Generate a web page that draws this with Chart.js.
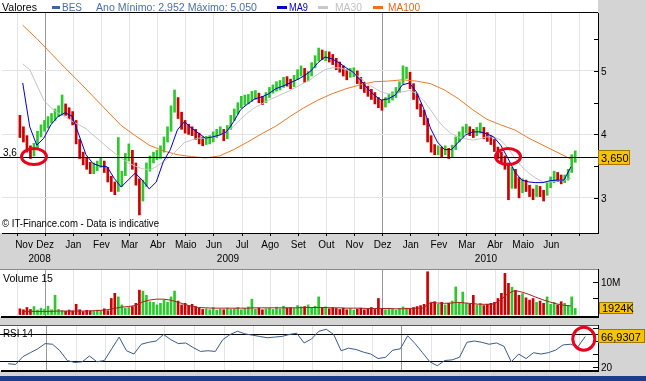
<!DOCTYPE html>
<html><head><meta charset="utf-8">
<script src="https://cdn.jsdelivr.net/npm/chart.js@4/dist/chart.umd.min.js"></script>
<style>
html,body{margin:0;padding:0;background:#d4d4d4;width:646px;height:381px;overflow:hidden;position:relative}
canvas{position:absolute;left:0}
#bar{position:absolute;left:0;top:376px;width:646px;height:5px;background:#1c3c8c}
</style></head><body>
<canvas id="c1" width="646" height="268" style="top:0"></canvas>
<canvas id="c2" width="646" height="49" style="top:269px"></canvas>
<canvas id="c3" width="646" height="48" style="top:325px"></canvas>
<div id="bar"></div>
<script>
// ---------- DATA ----------
// time axis: months since 1 Nov 2008 (Dec 2008 = 1, Jan 2009 = 2 ... Jul 2010 = 20)
const months = ['Nov','Dez','Jan','Fev','Mar','Abr','Maio','Jun','Jul','Ago','Set','Out','Nov','Dez','Jan','Fev','Mar','Abr','Maio','Jun'];
const years = [{label:'2008', start:0, end:2},{label:'2009', start:2, end:14},{label:'2010', start:14, end:26}];
const priceT0 = 0.6, priceDT = 0.125;
const closes = [4.07,3.95,3.79,3.72,3.75,4.00,4.10,4.15,4.23,4.28,4.34,4.35,4.42,4.39,4.35,4.23,3.91,3.68,3.60,3.52,
3.44,3.47,3.52,3.57,3.47,3.31,3.17,3.13,3.20,3.36,3.63,3.72,3.52,3.28,2.97,3.20,3.47,3.60,3.65,3.68,
3.76,3.91,4.07,4.39,4.54,4.31,4.15,4.10,4.07,4.04,3.99,3.91,3.88,3.91,3.91,3.99,4.04,4.07,3.95,4.10,
4.26,4.35,4.46,4.54,4.54,4.57,4.62,4.62,4.57,4.54,4.62,4.70,4.73,4.78,4.78,4.86,4.83,4.78,4.89,4.98,
5.02,4.89,4.94,5.09,5.20,5.28,5.25,5.25,5.22,5.17,5.09,5.05,4.98,4.94,4.98,4.98,4.86,4.78,4.73,4.67,
4.62,4.54,4.50,4.46,4.54,4.59,4.62,4.70,4.78,4.98,4.98,4.78,4.62,4.46,4.35,4.23,3.95,3.79,3.76,3.76,
3.72,3.76,3.68,3.79,3.91,3.99,4.07,4.10,4.04,4.02,4.07,4.10,3.99,3.95,3.91,3.79,3.68,3.63,3.52,3.20,
3.41,3.28,3.13,3.24,3.16,3.09,3.05,3.16,3.09,3.05,3.20,3.28,3.36,3.31,3.28,3.31,3.41,3.63,3.65];
const highs = [4.30,4.12,3.98,3.82,3.86,4.05,4.15,4.22,4.28,4.33,4.40,4.45,4.62,4.48,4.42,4.36,4.22,3.92,3.72,3.63,
3.56,3.55,3.58,3.64,3.58,3.48,3.34,3.25,3.95,3.42,3.70,3.85,3.75,3.55,3.30,3.28,3.55,3.66,3.72,3.75,
3.82,3.96,4.12,4.45,4.70,4.58,4.35,4.22,4.16,4.12,4.08,4.02,3.96,3.97,3.98,4.04,4.08,4.12,4.08,4.14,
4.30,4.40,4.50,4.60,4.62,4.63,4.68,4.69,4.65,4.60,4.66,4.74,4.78,4.83,4.85,4.90,4.91,4.87,4.93,5.02,
5.08,5.04,4.99,5.13,5.24,5.36,5.33,5.31,5.30,5.26,5.20,5.14,5.08,5.02,5.04,5.05,5.00,4.90,4.82,4.76,
4.71,4.66,4.58,4.54,4.58,4.63,4.67,4.74,4.83,5.08,5.06,4.98,4.80,4.64,4.48,4.38,4.25,3.98,3.84,3.82,
3.80,3.82,3.78,3.83,3.96,4.04,4.12,4.16,4.12,4.08,4.11,4.18,4.11,4.03,3.98,3.92,3.80,3.72,3.66,3.55,
3.48,3.45,3.32,3.30,3.28,3.20,3.14,3.20,3.18,3.12,3.24,3.33,3.42,3.40,3.36,3.36,3.45,3.68,3.74];
const lows = [3.95,3.88,3.72,3.62,3.66,3.78,3.96,4.05,4.10,4.18,4.22,4.28,4.30,4.30,4.25,4.15,3.85,3.62,3.52,3.45,
3.38,3.38,3.43,3.48,3.40,3.25,3.10,3.05,3.10,3.18,3.35,3.58,3.45,3.20,2.73,2.95,3.18,3.42,3.55,3.60,
3.62,3.72,3.88,4.05,4.35,4.25,4.08,4.02,4.00,3.98,3.92,3.85,3.82,3.84,3.85,3.88,3.95,3.99,3.90,3.93,
4.08,4.22,4.32,4.42,4.46,4.48,4.52,4.55,4.50,4.47,4.50,4.58,4.65,4.68,4.70,4.74,4.76,4.72,4.75,4.86,
4.92,4.82,4.84,4.92,5.05,5.16,5.18,5.16,5.14,5.10,5.02,4.98,4.92,4.86,4.90,4.91,4.80,4.72,4.66,4.60,
4.55,4.48,4.42,4.38,4.43,4.50,4.54,4.58,4.66,4.80,4.88,4.72,4.55,4.40,4.28,4.15,3.88,3.72,3.68,3.68,
3.65,3.68,3.62,3.65,3.76,3.88,3.96,4.02,3.98,3.95,3.98,4.02,3.93,3.89,3.84,3.73,3.62,3.56,3.45,2.97,
3.15,3.15,3.00,3.08,3.10,3.02,2.97,3.02,3.02,2.95,3.04,3.16,3.24,3.26,3.22,3.24,3.28,3.40,3.56];
const volumes = [1.8,1.5,2.2,1.6,2.5,1.4,2.0,1.7,2.6,1.5,6.0,
1.6,1.2,1.0,1.4,1.1,3.2,1.5,0.9,1.3,1.1,
1.0,1.4,1.2,1.8,1.2,5.0,6.6,5.5,3.0,2.0,
2.2,2.5,3.5,7.6,7.3,6.0,4.0,3.8,3.0,3.5,
4.5,3.8,5.5,7.3,4.2,3.0,3.5,2.8,3.2,2.5,
2.0,1.6,1.8,1.5,2.2,1.4,1.7,1.5,2.0,1.6,
1.8,2.2,1.5,1.9,2.4,4.8,1.7,2.0,1.5,1.8,
2.0,1.6,2.3,1.8,2.6,2.0,2.2,1.9,2.8,2.4,
2.5,3.0,2.2,2.6,5.5,2.0,2.4,1.8,2.2,1.9,
1.6,2.0,1.5,1.8,1.4,1.7,2.0,1.5,1.8,2.2,
1.6,5.0,1.8,1.5,2.0,1.7,1.4,1.9,2.4,2.0,
1.8,2.2,2.5,2.8,3.2,13.3,3.5,4.0,3.2,3.8,
3.0,3.5,4.2,8.6,3.8,7.0,3.5,3.2,6.0,3.0,
3.5,2.8,3.2,3.5,3.8,5.0,6.6,12.8,9.7,8.5,
7.5,6.0,6.5,5.2,4.5,5.0,3.8,4.2,3.5,5.5,
3.2,3.8,3.0,4.0,3.5,2.8,5.5,1.924];
const maT0 = 0.7, maDT = 0.25, ma100DT = 0.5;
const ma9 = [4.81,4.12,3.83,3.94,4.15,4.28,4.34,4.29,3.99,3.68,3.54,3.50,3.49,3.31,3.17,3.28,3.39,3.28,3.14,3.25,
3.57,3.76,4.07,4.20,4.10,4.02,3.94,3.96,3.99,4.04,4.20,4.39,4.48,4.56,4.59,4.64,4.72,4.76,4.81,4.86,
4.92,5.00,5.13,5.22,5.19,5.13,5.05,4.98,4.86,4.73,4.62,4.54,4.56,4.62,4.78,4.81,4.67,4.42,4.10,3.88,
3.76,3.76,3.88,3.99,4.04,4.04,4.01,3.96,3.83,3.63,3.41,3.28,3.25,3.24,3.24,3.27,3.28,3.28,3.49];
const ma30 = [5.11,5.02,4.78,4.54,4.42,4.34,4.28,4.21,4.15,4.09,3.99,3.90,3.80,3.71,3.63,3.55,3.50,3.46,3.44,3.49,
3.57,3.65,3.76,3.87,3.91,3.94,3.94,3.96,3.99,4.04,4.13,4.24,4.34,4.42,4.48,4.54,4.59,4.64,4.69,4.75,
4.81,4.87,4.95,5.02,5.05,5.05,5.02,4.97,4.89,4.80,4.73,4.67,4.64,4.64,4.67,4.69,4.65,4.54,4.39,4.23,
4.10,4.01,3.96,3.93,3.91,3.93,3.96,3.96,3.91,3.79,3.63,3.49,3.39,3.31,3.25,3.25,3.27,3.28,3.31];
const ma100 = [5.72,5.51,5.28,5.05,4.83,4.60,4.37,4.14,3.98,3.83,3.74,3.68,3.65,3.63,3.66,3.76,3.88,4.01,4.13,4.28,
4.42,4.54,4.64,4.72,4.78,4.83,4.84,4.86,4.84,4.80,4.70,4.56,4.39,4.24,4.15,4.07,3.94,3.83,3.72,3.61];
const volMA15 = [1.0,1.0,1.0,1.0,1.0,1.1,1.1,1.1,1.1,1.1,1.2,1.3,1.5,1.9,2.3,2.5,2.8,3.9,4.5,4.8,
4.8,4.5,3.9,3.2,2.6,2.2,2.1,2.0,2.0,2.0,2.0,2.0,2.0,2.1,2.1,2.1,2.1,2.1,2.1,2.1,
2.2,2.2,2.2,2.2,2.1,2.1,2.0,2.0,2.0,1.9,1.9,1.9,1.9,1.8,1.8,1.9,2.0,2.0,3.8,3.6,
3.5,3.6,3.8,3.6,3.4,3.2,3.2,3.3,4.5,6.5,7.5,7.0,6.3,5.4,4.6,3.9,3.3,2.9,2.7];
const rsi14 = [25,24,36,42,48,56,55,45,30,27,28,37,28,30,48,66,45,40,55,58,
60,70,62,56,57,50,44,45,44,62,70,75,71,69,67,65,66,67,70,72,
57,63,75,78,70,45,49,47,43,40,33,35,46,48,68,56,42,28,22,30,
31,35,58,60,58,55,57,52,28,40,33,42,40,42,46,54,55,51,66.93];
const priceTicks = [3,3.5,4,4.5,5,5.5];
const volTicks = [5,10];
const rsiTicks = [20,40,60,80];
const rsiLevels = [30,70];
const lastPrice = 3.65, lastVolumeLabel = '1924K', lastRsiLabel = '66,9307';
const circleMarks = [{t:1.1, v:3.65},{t:17.96, v:3.65}];
const rsiMark = {t:20.15, v:63.5};

// ---------- HELPERS ----------
const FONT = '"Liberation Sans", Arial, sans-serif';
const X_MIN = 0.493, X_MAX = 20.63;
const monthStarts = months.map((m,i)=>i+1);
const yearStarts = [2,14];
const UP = '#2ec82e', DOWN = '#c80000';
const barColors = closes.map((c,i)=> (i===0 ? c >= (highs[0]+lows[0])/2 : c >= closes[i-1]) ? UP : DOWN);
const tP = i => priceT0 + i*priceDT;
const dataStart = tP(0), dataEnd = tP(closes.length-1);

function fitText(ctx, text, x, y, w, font, color){
  ctx.save(); ctx.font = font; ctx.fillStyle = color; ctx.textAlign='left'; ctx.textBaseline='alphabetic';
  const m = ctx.measureText(text).width;
  ctx.translate(x, y); ctx.scale(w/m, 1); ctx.fillText(text, 0, 0); ctx.restore();
}
function xAxis(h, tickLen){
  return {
    type:'linear', min:X_MIN, max:X_MAX,
    afterBuildTicks: s => { s.ticks = monthStarts.map(v=>({value:v})); },
    afterFit: s => { s.height = h; },
    ticks:{display:false},
    grid:{color: c => (c.tick && yearStarts.includes(c.tick.value)) ? '#9a9a9a' : '#e4e4e4',
          drawTicks: tickLen>0, tickLength: tickLen, tickColor:'#000', lineWidth:1},
    border:{display:true, color:'#000', width: h>0 && tickLen===0 ? 2 : 1}
  };
}
function yAxis(min, max, ticks, gridFn){
  return {
    position:'right', min, max,
    afterBuildTicks: s => { s.ticks = ticks.map(v=>({value:v})); },
    afterFit: s => { s.width = 48; },
    ticks:{display:false},
    grid:{color: gridFn, drawTicks:false},
    border:{display:true, color:'#000', width:1}
  };
}
// inward tick marks plus right-hand labels
function rightAxis(ch, len, labelFn){
  const {ctx, chartArea:a, scales:{y}} = ch;
  ctx.save(); ctx.strokeStyle='#000'; ctx.lineWidth=1; ctx.beginPath();
  y.ticks.forEach(t=>{ const p = Math.round(y.getPixelForValue(t.value))+0.5; ctx.moveTo(a.right-len,p); ctx.lineTo(a.right,p); });
  ctx.stroke();
  ctx.font='10px '+FONT; ctx.fillStyle='#000'; ctx.textAlign='left'; ctx.textBaseline='middle';
  y.ticks.forEach(t=>{ const s = labelFn(t.value); if (s) ctx.fillText(s, a.right+3, y.getPixelForValue(t.value)+1); });
  ctx.restore();
}
function yellowBox(ctx, x, yc, w, h, text){
  ctx.save(); ctx.fillStyle='#f6c400'; ctx.fillRect(x, Math.round(yc-h/2), w, h);
  ctx.strokeStyle='#a07800'; ctx.lineWidth=1; ctx.strokeRect(x+0.5, Math.round(yc-h/2)+0.5, w-1, h-1);
  ctx.fillStyle='#000'; ctx.font='11px '+FONT; ctx.textBaseline='middle'; ctx.textAlign='left';
  ctx.fillText(text, x+3, yc+1); ctx.restore();
}
function ring(ctx, cx, cy, rx, ry){
  ctx.save(); ctx.strokeStyle='#e8001c'; ctx.lineWidth=3; ctx.beginPath();
  ctx.ellipse(cx, cy, rx, ry, 0, 0, Math.PI*2); ctx.stroke(); ctx.restore();
}
function whiteArea(ch){ const {ctx, chartArea:a} = ch; ctx.save(); ctx.fillStyle='#fff'; ctx.fillRect(0,0,a.right,a.bottom); ctx.restore(); }
const common = {responsive:false, animation:false, devicePixelRatio:1, events:[],
  plugins:{legend:{display:false}, tooltip:{enabled:false}}};

// ---------- MAIN PRICE CHART ----------
const mainDeco = {
  id:'mainDeco',
  beforeDraw: whiteArea,
  afterDraw(ch){
    const {ctx, chartArea:a, scales:{x,y}} = ch;
    const py = Math.round(y.getPixelForValue(lastPrice))+0.5;
    ctx.save(); ctx.strokeStyle='#000'; ctx.lineWidth=1; ctx.beginPath(); ctx.moveTo(0,py); ctx.lineTo(a.right,py); ctx.stroke(); ctx.restore();
    ctx.save(); ctx.strokeStyle='#000'; ctx.lineWidth=1; ctx.beginPath(); ctx.moveTo(0,12.5); ctx.lineTo(a.right,12.5); ctx.stroke(); ctx.restore();
    rightAxis(ch, 4, v => Number.isInteger(v) ? String(v) : '');
    const f10 = '10px '+FONT;
    fitText(ctx,'Valores',2,11,35,f10,'#000');
    ctx.fillStyle='#3d66a8'; ctx.fillRect(52,6,8,3);
    fitText(ctx,'BES',62,11,20,f10,'#4a6fa8');
    fitText(ctx,'Ano Mínimo: 2,952 Máximo: 5,050',96,11,161,f10,'#4a6fa8');
    ctx.fillStyle='#0000cc'; ctx.fillRect(277,6,10,3);
    fitText(ctx,'MA9',289,11,19,f10,'#0000cc');
    ctx.fillStyle='#c8c8c8'; ctx.fillRect(318,6,10,3);
    fitText(ctx,'MA30',335,11,27,f10,'#c0c0c0');
    ctx.fillStyle='#f07020'; ctx.fillRect(373,6,10,3);
    fitText(ctx,'MA100',388,11,32,f10,'#e06a1a');
    fitText(ctx,'© IT-Finance.com - Data is indicative',2,227,157,'11px '+FONT,'#000');
    ctx.save(); ctx.font = '10px '+FONT; ctx.fillStyle='#000'; ctx.textAlign='center'; ctx.textBaseline='alphabetic';
    months.forEach((m,k)=>{ const lo=Math.max(X_MIN,k), hi=Math.min(X_MAX,k+1); ctx.fillText(m, x.getPixelForValue((lo+hi)/2), 248); });
    years.forEach(yr=>{ const lo=Math.max(dataStart,yr.start), hi=Math.min(dataEnd,yr.end); ctx.fillText(yr.label, x.getPixelForValue((lo+hi)/2), 262); });
    ctx.restore();
    ctx.save(); ctx.font='10px '+FONT; ctx.fillStyle='#000'; ctx.textBaseline='middle'; ctx.fillText('3,6', 3, py-4); ctx.restore();
    yellowBox(ctx, a.right, py, 32, 15, '3,650');
    circleMarks.forEach(c=> ring(ctx, x.getPixelForValue(c.t), y.getPixelForValue(c.v), 12.5, 8));
  }
};
new Chart(document.getElementById('c1'), {
  data:{datasets:[
    {type:'line', label:'MA9', data: ma9.map((v,i)=>({x:maT0+i*maDT, y:v})), borderColor:'#0000cc', borderWidth:1, pointRadius:0, order:0},
    {type:'line', label:'MA30', data: ma30.map((v,i)=>({x:maT0+i*maDT, y:v})), borderColor:'#c4c4c4', borderWidth:1, pointRadius:0, order:1},
    {type:'line', label:'MA100', data: ma100.map((v,i)=>({x:maT0+i*ma100DT, y:v})), borderColor:'#ea7a2a', borderWidth:1, pointRadius:0, order:2},
    {type:'bar', label:'BES', data: closes.map((c,i)=>({x:tP(i), y:[lows[i], highs[i]]})), backgroundColor: barColors, barThickness:2, borderWidth:0, order:3}
  ]},
  options:{...common, layout:{padding:{left:2, top:13, right:0, bottom:0}},
    scales:{ x: xAxis(35, 3),
      y: yAxis(2.446, 5.913, priceTicks, c => Number.isInteger(c.tick.value) ? '#e4e4e4' : 'rgba(0,0,0,0)') }},
  plugins:[mainDeco]
});

// ---------- VOLUME CHART ----------
const volDeco = {
  id:'volDeco',
  beforeDraw: whiteArea,
  afterDraw(ch){
    const {ctx, chartArea:a, scales:{y}} = ch;
    ctx.save(); ctx.strokeStyle='#8a8a8a'; ctx.beginPath(); ctx.moveTo(0,0.5); ctx.lineTo(a.right,0.5); ctx.stroke(); ctx.restore();
    rightAxis(ch, 5, v => v===10 ? '10M' : '');
    fitText(ctx,'Volume 15',3,13,50,'11px '+FONT,'#000');
    yellowBox(ctx, a.right+1, y.getPixelForValue(volumes[volumes.length-1]), 34, 12, lastVolumeLabel);
  }
};
new Chart(document.getElementById('c2'), {
  data:{datasets:[
    {type:'line', data: volMA15.map((v,i)=>({x:maT0+i*maDT, y:v})), borderColor:'#a82020', borderWidth:1, pointRadius:0, order:0},
    {type:'bar', data: volumes.map((v,i)=>({x:tP(i), y:v})), backgroundColor: barColors, barThickness:2, borderWidth:0, order:1}
  ]},
  options:{...common, layout:{padding:{left:2, top:0, right:0, bottom:0}},
    scales:{ x: xAxis(1, 0),
      y: yAxis(-0.75, 14.16, volTicks, () => 'rgba(0,0,0,0)') }},
  plugins:[volDeco]
});

// ---------- RSI CHART ----------
const rsiDeco = {
  id:'rsiDeco',
  beforeDraw: whiteArea,
  beforeDatasetsDraw(ch){
    const {ctx, chartArea:a, scales:{y}} = ch;
    fitText(ctx,'RSI 14',3,12,30,'11px '+FONT,'#000');
    ctx.save(); ctx.strokeStyle='#000'; ctx.lineWidth=1; ctx.beginPath();
    rsiLevels.forEach(l=>{ const p=Math.round(y.getPixelForValue(l))+0.5; ctx.moveTo(0,p); ctx.lineTo(a.right,p); });
    ctx.stroke(); ctx.restore();
  },
  afterDraw(ch){
    const {ctx, chartArea:a, scales:{x,y}} = ch;
    ctx.save(); ctx.strokeStyle='#555'; ctx.beginPath(); ctx.moveTo(0,0.5); ctx.lineTo(a.right,0.5); ctx.stroke(); ctx.restore();
    rightAxis(ch, 5, v => v===20 ? '20' : '');
    yellowBox(ctx, a.right, y.getPixelForValue(rsi14[rsi14.length-1]), 47, 14, lastRsiLabel);
    ring(ctx, x.getPixelForValue(rsiMark.t), y.getPixelForValue(rsiMark.v), 11, 11.5);
  }
};
new Chart(document.getElementById('c3'), {
  data:{datasets:[
    {type:'line', data: rsi14.map((v,i)=>({x:maT0+i*maDT, y:v})), borderColor:'#3a5a8c', borderWidth:1, pointRadius:0}
  ]},
  options:{...common, layout:{padding:{left:2, top:0, right:0, bottom:0}},
    scales:{ x: xAxis(2, 0),
      y: yAxis(13.9, 84.6, rsiTicks, () => 'rgba(0,0,0,0)') }},
  plugins:[rsiDeco]
});
</script></body></html>
